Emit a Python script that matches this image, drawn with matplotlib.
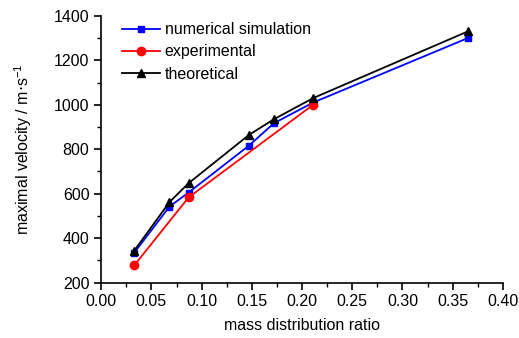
import matplotlib
matplotlib.use("Agg")
import matplotlib.pyplot as plt
from matplotlib.ticker import MultipleLocator

plt.rcParams['font.family'] = ['Liberation Sans', 'DejaVu Sans']

# data
x_num = [0.033, 0.068, 0.087, 0.147, 0.172, 0.211, 0.365]
v_num = [335, 542, 605, 816, 917, 1010, 1300]

x_exp = [0.033, 0.087, 0.211]
v_exp = [278, 583, 1000]

x_theo = [0.033, 0.068, 0.087, 0.147, 0.172, 0.211, 0.365]
v_theo = [344, 562, 647, 864, 935, 1030, 1330]

fig = plt.figure(figsize=(5.19, 3.38), dpi=100)
ax = fig.add_axes([0.195, 0.164, 0.774, 0.789])

ax.plot(x_num, v_num, color='blue', marker='s', markersize=5, lw=1.3, label='numerical simulation')
ax.plot(x_exp, v_exp, color='red', marker='o', markersize=6, lw=1.3, label='experimental')
ax.plot(x_theo, v_theo, color='black', marker='^', markersize=6, lw=1.3, label='theoretical')

ax.set_xlim(0, 0.40)
ax.set_ylim(200, 1400)
ax.xaxis.set_major_locator(MultipleLocator(0.05))
ax.xaxis.set_minor_locator(MultipleLocator(0.025))
ax.yaxis.set_major_locator(MultipleLocator(200))
ax.yaxis.set_minor_locator(MultipleLocator(100))
ax.xaxis.set_major_formatter(plt.FuncFormatter(lambda v, p: f"{v:.2f}"))

for s in ['top', 'right']:
    ax.spines[s].set_visible(False)
for s in ['left', 'bottom']:
    ax.spines[s].set_linewidth(1.2)
ax.tick_params(which='major', direction='out', length=5, width=1.2, labelsize=11.5)
ax.tick_params(which='minor', direction='out', length=3, width=1.0)

ax.set_xlabel('mass distribution ratio', fontsize=11.5, labelpad=6)
ax.set_ylabel(r'maximal velocity / m$\cdot$s$^{\mathregular{-1}}$', fontsize=11.5, labelpad=14)

ax.legend(loc='upper left', bbox_to_anchor=(0.015, 1.03), frameon=False, fontsize=11.5,
          handlelength=2.4, handletextpad=0.3, labelspacing=0.45)

fig.savefig('out.png', dpi=100)
